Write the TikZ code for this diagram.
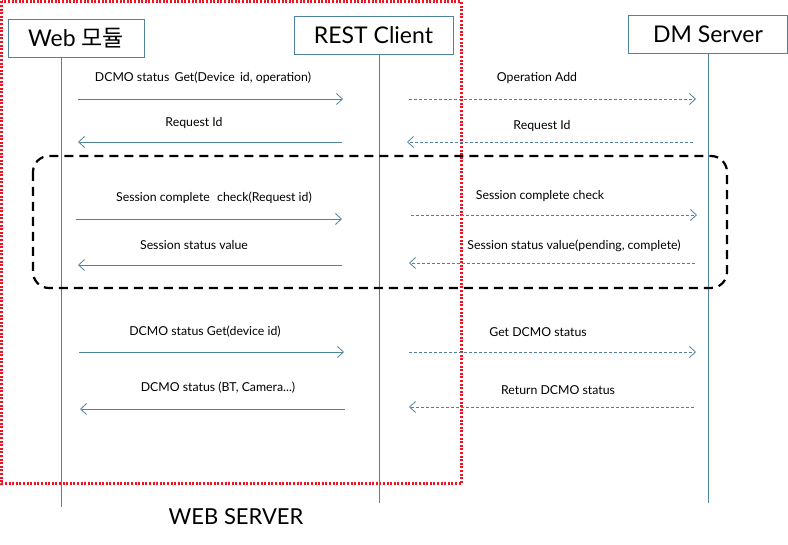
\documentclass[tikz,border=0pt]{standalone}
\usepackage{fontspec}
\setmainfont{Lato}
\newfontfamily\krfont{Noto Sans CJK KR}
\usetikzlibrary{arrows.meta}
\definecolor{lane}{RGB}{80,130,155}
\definecolor{webred}{RGB}{235,20,35}
\tikzset{
  hdr/.style={draw=lane, line width=0.8pt, fill=white, minimum height=38pt, inner sep=0pt, font=\fontsize{23}{26}\selectfont},
  life/.style={draw=lane, line width=0.6pt},
  syncmsg/.style={draw=lane, line width=0.8pt, -{Straight Barb[length=6pt,width=11pt,line width=0.8pt]}},
  asyncmsg/.style={draw=lane, line width=0.7pt, dash pattern=on 3pt off 2pt, -{Straight Barb[length=6pt,width=11pt,line width=0.8pt]}},
  lbl/.style={font=\fontsize{12.3}{14}\selectfont, inner sep=0pt},
}
\begin{document}
\begin{tikzpicture}[x=1pt,y=-1pt]
\useasboundingbox (0,0) rectangle (788,545);
% red web server frame
\draw[webred, line width=3pt, dash pattern=on 2pt off 1.6pt] (1.5,1.5) rectangle (461,484);
% headers
\node[hdr, minimum width=136pt] (web) at (76,38.5) {Web {\krfont 모듈}};
\node[hdr, minimum width=159pt] (rest) at (373.5,35) {REST Client};
\node[hdr, minimum width=159pt] (dm) at (708,34) {DM Server};
% lifelines
\coordinate (webend) at (61,507);
\coordinate (restend) at (379,503);
\coordinate (dmend) at (708,503);
\draw[life] (web.south -| webend) -- (webend);
\draw[life] (rest.south -| restend) -- (restend);
\draw[life] (dm.south -| dmend) -- (dmend);
% black dashed session frame
\draw[black, line width=2.2pt, dash pattern=on 9pt off 6pt, rounded corners=16pt] (33,156) rectangle (727,288);
% message endpoints
\coordinate (a1s) at (78,99);   \coordinate (a1e) at (343,99);
\coordinate (a2s) at (342,142); \coordinate (a2e) at (78,142);
\coordinate (a3s) at (76,219);  \coordinate (a3e) at (342,219);
\coordinate (a4s) at (342,265); \coordinate (a4e) at (78,265);
\coordinate (a5s) at (79,352);  \coordinate (a5e) at (344,352);
\coordinate (a6s) at (345,409); \coordinate (a6e) at (80,409);
\coordinate (b1s) at (409,99);  \coordinate (b1e) at (696,99);
\coordinate (b2s) at (693,142); \coordinate (b2e) at (407,142);
\coordinate (b3s) at (411,215); \coordinate (b3e) at (697,215);
\coordinate (b4s) at (695,263); \coordinate (b4e) at (409,263);
\coordinate (b5s) at (409,352); \coordinate (b5e) at (696,352);
\coordinate (b6s) at (694,407); \coordinate (b6e) at (409,407);
% solid messages
\draw[syncmsg] (a1s) -- (a1e);
\draw[syncmsg] (a2s) -- (a2e);
\draw[syncmsg] (a3s) -- (a3e);
\draw[syncmsg] (a4s) -- (a4e);
\draw[syncmsg] (a5s) -- (a5e);
\draw[syncmsg] (a6s) -- (a6e);
% dashed messages
\draw[asyncmsg] (b1s) -- (b1e);
\draw[asyncmsg] (b2s) -- (b2e);
\draw[asyncmsg] (b3s) -- (b3e);
\draw[asyncmsg] (b4s) -- (b4e);
\draw[asyncmsg] (b5s) -- (b5e);
\draw[asyncmsg] (b6s) -- (b6e);
% labels
\node[lbl] (la1) at (203,78) {DCMO status\, Get(Device\, id, operation)};
\node[lbl] (la2) at (194,123) {Request Id};
\node[lbl] (la3) at (214,198) {Session complete\,\, check(Request id)};
\node[lbl] (la4) at (194,245) {Session status value};
\node[lbl] (la5) at (205,332) {DCMO status Get(device id)};
\node[lbl] (la6) at (218,388) {DCMO status (BT, Camera...)};
\node[lbl] (lb1) at (537,78) {Operation Add};
\node[lbl] (lb2) at (542,126) {Request Id};
\node[lbl] (lb3) at (540,196) {Session complete check};
\node[lbl] (lb4) at (574,246) {Session status value(pending, complete)};
\node[lbl] (lb5) at (538,332) {Get DCMO status};
\node[lbl] (lb6) at (558,390) {Return DCMO status};
\node[font=\fontsize{22}{26}\selectfont, inner sep=0pt] (ws) at (236,517) {WEB SERVER};
\end{tikzpicture}
\end{document}
